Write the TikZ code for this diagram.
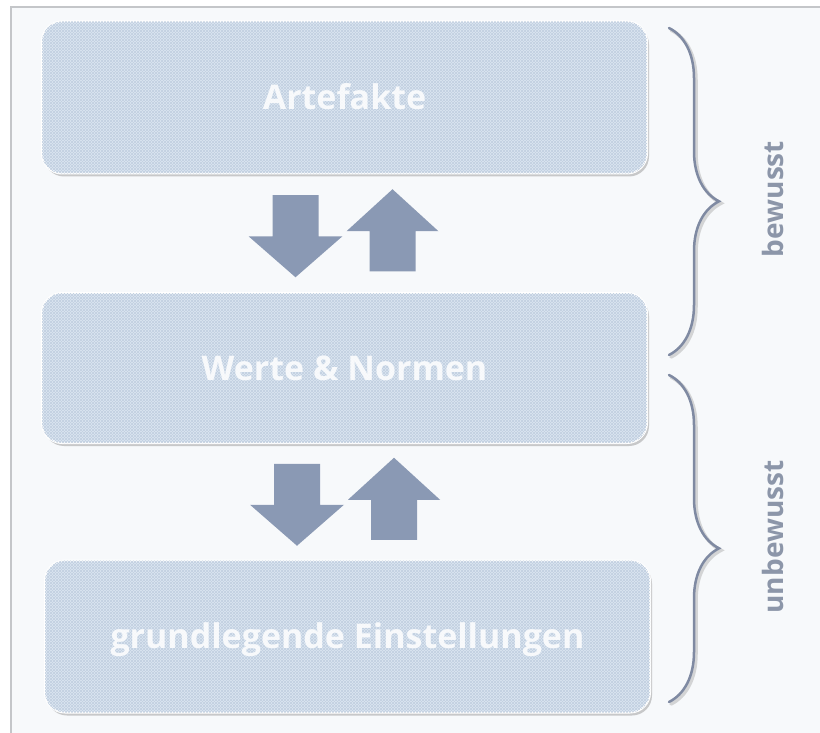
\documentclass[tikz,border=0pt]{standalone}
\usepackage{fontspec}
\setmainfont{Open Sans}
\usetikzlibrary{patterns,shadows,calc,decorations.pathreplacing}

\definecolor{framegray}{HTML}{C4C6C9}
\definecolor{paper}{HTML}{F7F9FB}
\definecolor{layerfill}{HTML}{DCE6F2}
\definecolor{layerhatch}{HTML}{C2D0E1}
\definecolor{arrowblue}{HTML}{8A99B4}
\definecolor{bracegray}{HTML}{7F8AA2}
\definecolor{labelgray}{HTML}{8C96A9}

\tikzset{
  layerbox/.style={rectangle, rounded corners=20pt, draw=white, line width=2pt,
    fill=layerfill,
    postaction={pattern=north east lines, pattern color=layerhatch},
    postaction={pattern=north west lines, pattern color=layerhatch},
    drop shadow={shadow xshift=2pt, shadow yshift=-3pt, opacity=.4, fill=gray},
    minimum width=605pt, minimum height=152pt,
    text=white, text opacity=.85, font=\bfseries\fontsize{34}{40}\selectfont,
    text height=24pt, text depth=0pt},
  blockarrow/.style={fill=arrowblue},
  layerbrace/.style={decorate, decoration={brace, amplitude=50pt, aspect=.53},
    draw=bracegray, line width=2.5pt, line cap=round},
  braceshade/.style={layerbrace, draw=gray, opacity=.3, line width=3.5pt},
  layerlabel/.style={text=labelgray, font=\bfseries\fontsize{28}{32}\selectfont, rotate=90}
}

\begin{document}
\begin{tikzpicture}[x=1pt,y=-1pt]
  \useasboundingbox (0,0) rectangle (820,733);
  \fill[white] (0,0) rectangle (820,733);
  \draw[framegray, line width=1.5pt, fill=paper] (11,7) rectangle (840,750);

  % the three layers
  \node[layerbox] (artefakte) at (344.5,97.5) {Artefakte};
  \node[layerbox, minimum height=150pt] (werte) at (344.5,368) {Werte \& Normen};
  \node[layerbox] (grund) at (347.5,636.5) {grundlegende Einstellungen};

  \coordinate (m1) at ($(artefakte.south)!.5!(werte.north)$);
  \coordinate (m2) at ($(werte.south)!.5!(grund.north)$);

  % down and up arrows between the layers
  \foreach \m in {m1,m2}{
    \begin{scope}[shift={(\m)}]
      \fill[blockarrow] (-72,-38) -- (-26,-38) -- (-26,3) -- (-2,3) -- (-49,44) -- (-96,3) -- (-72,3) -- cycle;
      \fill[blockarrow] (25,38) -- (71,38) -- (71,-2) -- (94,-2) -- (48,-44) -- (2,-2) -- (25,-2) -- cycle;
    \end{scope}
  }

  % braces
  \coordinate (b1top) at (669,28);
  \coordinate (b1bot) at (669,355);
  \coordinate (b2top) at (669,375);
  \coordinate (b2bot) at (669,702);
  \draw[braceshade] ($(b1top)+(2,2)$) -- ($(b1bot)+(2,2)$);
  \draw[braceshade] ($(b2top)+(2,2)$) -- ($(b2bot)+(2,2)$);
  \draw[layerbrace] (b1top) -- (b1bot);
  \draw[layerbrace] (b2top) -- (b2bot);

  \node[layerlabel] (bewusst) at (773,199) {bewusst};
  \node[layerlabel] (unbewusst) at (773,537) {unbewusst};
\end{tikzpicture}
\end{document}
